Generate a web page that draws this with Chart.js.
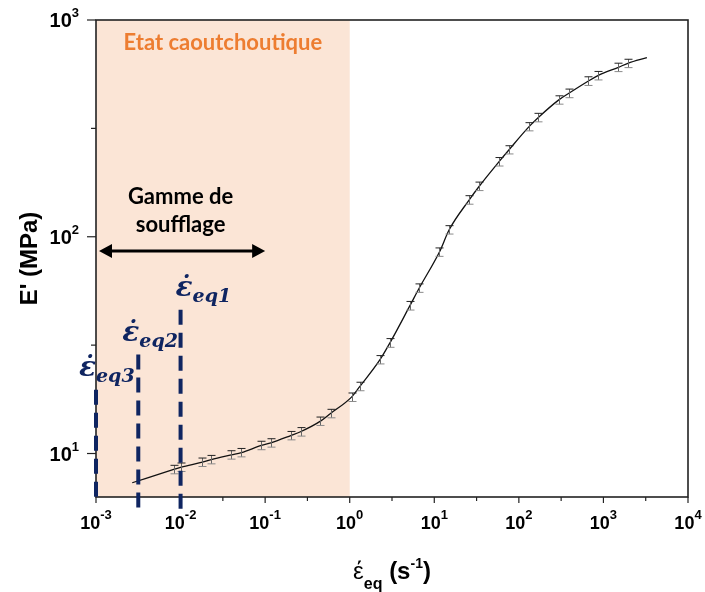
<!DOCTYPE html>
<html>
<head>
<meta charset="utf-8">
<script src="https://cdn.jsdelivr.net/npm/chart.js@4.4.1/dist/chart.umd.min.js"></script>
<style>
  html, body { margin: 0; padding: 0; background: #fff; }
</style>
</head>
<body>
<canvas id="modulusChart" width="705" height="592"></canvas>
<script>
// measured points: equivalent strain rate (s-1) vs storage modulus E' (MPa)
const rateMeasured    = [0.0083, 0.0102, 0.0181, 0.0231, 0.0399, 0.0524, 0.0904, 0.117, 0.201, 0.262,
                         0.451, 0.593, 1.05, 1.32, 2.28, 2.99, 5.15, 6.64, 11.5, 15.0,
                         25.9, 34.0, 58.3, 76.6, 132, 170, 297, 390, 665, 860, 1506, 1946];
const modulusMeasured = [8.44, 8.65, 9.12, 9.38, 9.86, 10.1, 10.9, 11.2, 12.1, 12.6,
                         14.1, 15.3, 18.2, 20.4, 27.1, 32.4, 48.1, 58.0, 85.0, 107.7,
                         148, 171, 222, 252, 322, 355, 428, 459, 523, 554, 605, 631];
const modulusErr      = [0.38, 0.39, 0.41, 0.42, 0.44, 0.45, 0.49, 0.5, 0.54, 0.57,
                         0.63, 0.69, 0.82, 0.92, 1.2, 1.5, 2.2, 2.6, 3.8, 4.8,
                         6.7, 7.7, 10, 11, 14, 16, 19, 21, 24, 25, 27, 28];

// master curve ends (outside the measured points)
const curveStart = [0.00268, 7.33];
const curveEnd   = [3266, 670];

const xDecades = [-3, -2, -1, 0, 1, 2, 3, 4];
const yDecades = [1, 2, 3];

const rubberyRange = [1e-3, 1];      // "Etat caoutchoutique"
const blowingRange = [1e-3, 1e-1];   // "Gamme de soufflage"
const eqRates  = [1e-2, 3.162e-3, 1e-3];
const eqTops   = [46, 28.6, 19.7];
const eqNames  = ['eq1', 'eq2', 'eq3'];

const NAVY   = '#0F2561';
const ORANGE = '#ED7D31';
const PEACH  = '#FBE5D6';
const SANS   = '"Liberation Sans", Arial, sans-serif';

const curvePts = [{ x: curveStart[0], y: curveStart[1] }]
    .concat(rateMeasured.map((r, i) => ({ x: r, y: modulusMeasured[i] })))
    .concat([{ x: curveEnd[0], y: curveEnd[1] }]);

function xPix(chart, v) { return chart.scales.x.getPixelForValue(v); }
function yPix(chart, v) { return chart.scales.y.getPixelForValue(v); }

// draws "base" + raised "sup"; align = 'center' | 'right'
function supText(ctx, base, sup, x, y, baseFont, supFont, rise, align) {
    ctx.font = baseFont;
    const wb = ctx.measureText(base).width;
    ctx.font = supFont;
    const ws = ctx.measureText(sup).width;
    const left = align === 'right' ? x - wb - ws : x - (wb + ws) / 2;
    ctx.textAlign = 'left';
    ctx.font = baseFont;
    ctx.fillText(base, left, y);
    ctx.font = supFont;
    ctx.fillText(sup, left + wb, y - rise);
}

const backdrop = {
    id: 'backdrop',
    beforeDatasetsDraw(chart) {
        const { ctx, chartArea: a } = chart;
        const x0 = xPix(chart, rubberyRange[0]), x1 = xPix(chart, rubberyRange[1]);
        ctx.save();
        ctx.fillStyle = PEACH;
        ctx.fillRect(x0, a.top, x1 - x0, a.bottom - a.top);
        ctx.restore();
    }
};

const errorBars = {
    id: 'errorBars',
    afterDatasetsDraw(chart) {
        const ctx = chart.ctx;
        ctx.save();
        ctx.lineWidth = 1;
        rateMeasured.forEach((r, i) => {
            const x = Math.round(xPix(chart, r)) + 0.5;
            const yt = yPix(chart, modulusMeasured[i] + modulusErr[i]);
            const yb = yPix(chart, modulusMeasured[i] - modulusErr[i]);
            ctx.strokeStyle = '#666';
            ctx.beginPath(); ctx.moveTo(x, yt); ctx.lineTo(x, yb); ctx.stroke();
            ctx.strokeStyle = '#222';
            ctx.beginPath(); ctx.moveTo(x - 4, yt); ctx.lineTo(x + 4, yt); ctx.stroke();
            ctx.strokeStyle = '#8a8a8a';
            ctx.beginPath(); ctx.moveTo(x - 4, yb); ctx.lineTo(x + 4, yb); ctx.stroke();
        });
        ctx.restore();
    }
};

const frameAndText = {
    id: 'frameAndText',
    afterDraw(chart) {
        const { ctx, chartArea: a } = chart;
        ctx.save();

        // frame
        ctx.strokeStyle = '#222';
        ctx.lineWidth = 1.6;
        ctx.strokeRect(a.left, a.top, a.right - a.left, a.bottom - a.top);

        // ticks (decades + half decades)
        ctx.lineWidth = 1.2;
        xDecades.forEach(d => {
            const x = xPix(chart, Math.pow(10, d));
            ctx.beginPath(); ctx.moveTo(x, a.bottom); ctx.lineTo(x, a.bottom + 6); ctx.stroke();
            if (d < 4) {
                const xm = xPix(chart, Math.pow(10, d + 0.5));
                ctx.beginPath(); ctx.moveTo(xm, a.bottom); ctx.lineTo(xm, a.bottom + 4); ctx.stroke();
            }
        });
        [0.5, 1, 1.5, 2, 2.5, 3].forEach(e => {
            const y = yPix(chart, Math.pow(10, e));
            if (y > a.bottom) return;
            const len = e % 1 === 0 ? 9 : 5;
            ctx.beginPath(); ctx.moveTo(a.left, y); ctx.lineTo(a.left - len, y); ctx.stroke();
        });

        // tick labels
        ctx.fillStyle = '#000';
        ctx.textBaseline = 'alphabetic';
        xDecades.forEach(d => {
            supText(ctx, '10', String(d), xPix(chart, Math.pow(10, d)), a.bottom + 32,
                'bold 18px ' + SANS, 'bold 13px ' + SANS, 10, 'center');
        });
        yDecades.forEach(d => {
            supText(ctx, '10', String(d), a.left - 17, yPix(chart, Math.pow(10, d)) + 7,
                'bold 20px ' + SANS, 'bold 13px ' + SANS, 10, 'right');
        });

        // axis titles
        ctx.save();
        ctx.translate(37, (a.top + a.bottom) / 2);
        ctx.rotate(-Math.PI / 2);
        ctx.textAlign = 'center';
        ctx.font = 'bold 24px ' + SANS;
        ctx.fillText("E' (MPa)", 0, 0);
        ctx.restore();

        const parts = [
            { t: 'έ',   f: '24px ' + SANS,      dy: 0 },
            { t: 'eq',  f: 'bold 16px ' + SANS, dy: 10 },
            { t: ' (s', f: 'bold 24px ' + SANS, dy: 0 },
            { t: '-1',  f: 'bold 14px ' + SANS, dy: -11 },
            { t: ')',   f: 'bold 24px ' + SANS, dy: 0 },
        ];
        let total = 0;
        parts.forEach(p => { ctx.font = p.f; p.w = ctx.measureText(p.t).width; total += p.w; });
        let cx = (a.left + a.right) / 2 - total / 2;
        ctx.textAlign = 'left';
        parts.forEach(p => { ctx.font = p.f; ctx.fillText(p.t, cx, 579 + p.dy); cx += p.w; });

        // rubbery state label
        ctx.textAlign = 'center';
        ctx.fillStyle = ORANGE;
        ctx.font = 'bold 22px Lato, sans-serif';
        ctx.fillText('Etat caoutchoutique', (xPix(chart, rubberyRange[0]) + xPix(chart, rubberyRange[1])) / 2, 50);

        // blowing range
        const bx0 = xPix(chart, blowingRange[0]) + 3, bx1 = xPix(chart, blowingRange[1]);
        const bmid = xPix(chart, Math.sqrt(blowingRange[0] * blowingRange[1]));
        ctx.fillStyle = '#000';
        ctx.fillText('Gamme de', bmid, 204);
        ctx.fillText('soufflage', bmid, 232);
        const ay = yPix(chart, 86);
        ctx.strokeStyle = '#000';
        ctx.lineWidth = 3;
        ctx.beginPath(); ctx.moveTo(bx0 + 8, ay); ctx.lineTo(bx1 - 8, ay); ctx.stroke();
        ctx.beginPath();
        ctx.moveTo(bx0, ay); ctx.lineTo(bx0 + 13, ay - 7); ctx.lineTo(bx0 + 13, ay + 7); ctx.closePath();
        ctx.moveTo(bx1, ay); ctx.lineTo(bx1 - 13, ay - 7); ctx.lineTo(bx1 - 13, ay + 7); ctx.closePath();
        ctx.fill();

        // equivalent strain rate markers
        const below = [15, 15, 0];
        const dx = [-5, -16, -17];
        eqRates.forEach((r, i) => {
            const x = xPix(chart, r);
            const yTop = yPix(chart, eqTops[i]);
            ctx.strokeStyle = NAVY;
            ctx.lineWidth = 4;
            ctx.setLineDash([15, 8]);
            ctx.beginPath(); ctx.moveTo(x, yTop); ctx.lineTo(x, a.bottom + below[i]); ctx.stroke();
            ctx.setLineDash([]);
            ctx.fillStyle = NAVY;
            ctx.textAlign = 'left';
            ctx.font = 'bold italic 28px "DejaVu Serif", serif';
            const lx = x + dx[i], ly = yTop - 14;
            ctx.fillText('ε\u0307', lx, ly);
            const we = ctx.measureText('ε').width;
            ctx.font = 'bold italic 19px "DejaVu Serif", serif';
            ctx.fillText(eqNames[i], lx + we, ly + 6);
        });

        ctx.restore();
    }
};

new Chart(document.getElementById('modulusChart').getContext('2d'), {
    type: 'scatter',
    data: {
        datasets: [{
            label: 'courbe maîtresse',
            data: curvePts,
            showLine: true,
            borderColor: '#111',
            borderWidth: 1.3,
            pointRadius: 0,
            cubicInterpolationMode: 'monotone',
        }]
    },
    options: {
        responsive: false,
        animation: false,
        layout: { padding: { left: 96, right: 17, top: 20, bottom: 95 } },
        plugins: { legend: { display: false }, tooltip: { enabled: false } },
        scales: {
            x: { type: 'logarithmic', min: 1e-3, max: 1e4, display: false },
            y: { type: 'logarithmic', min: 6.3, max: 1000, display: false },
        }
    },
    plugins: [backdrop, errorBars, frameAndText]
});
</script>
</body>
</html>
